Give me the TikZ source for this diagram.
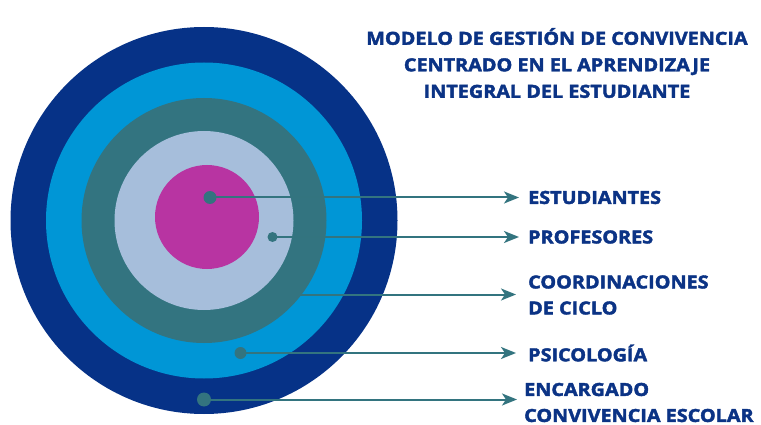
\documentclass[tikz,border=0pt]{standalone}
\usepackage{fontspec}
\IfFontExistsTF{Open Sans ExtraBold}
  {\setmainfont{Open Sans}[BoldFont={Open Sans ExtraBold}]}
  {\setmainfont{Open Sans}[BoldFeatures={FakeBold=2.2,FakeStretch=1.1}]}
\usetikzlibrary{arrows.meta}
\definecolor{navy}{HTML}{063287}
\definecolor{sky}{HTML}{0096D6}
\definecolor{tealring}{HTML}{337480}
\definecolor{steel}{HTML}{A6BEDB}
\definecolor{magent}{HTML}{B834A2}
\definecolor{dotc}{HTML}{33747F}
\definecolor{txt}{HTML}{0B3385}
\begin{document}
\begin{tikzpicture}[x=1pt,y=-1pt,
  ring/.style={circle,inner sep=0pt,minimum size=#1,draw=none},
  dotn/.style={circle,inner sep=0pt,minimum size=#1,fill=dotc},
  lab/.style={anchor=west,inner sep=0pt,text=txt,font=\fontsize{18}{26}\selectfont\bfseries,align=left},
  conn/.style={draw=dotc,line width=2pt,-{Stealth[length=15pt,width=12pt,inset=4pt]},shorten >=9pt}]
\useasboundingbox (0,0) rectangle (761,425);
\fill[white] (0,0) rectangle (761,425);
% rings
\node[ring=387pt,fill=navy] (r1) at (204,220.5) {};
\node[ring=316pt,fill=sky] (r2) at (204,220.5) {};
\node[ring=245pt,fill=tealring] (r3) at (204,220.5) {};
\node[ring=179pt,fill=steel] (r4) at (204,220.5) {};
\node[ring=104pt,fill=magent] (r5) at (207,217) {};
% title
\node[inner sep=0pt,text=txt,font=\fontsize{18}{26.5}\selectfont\bfseries,align=center] (title) at (557,63)
  {MODELO DE GESTIÓN DE CONVIVENCIA\\CENTRADO EN EL APRENDIZAJE\\INTEGRAL DEL ESTUDIANTE};
% labels
\node[lab] (l1) at (528,197.5) {ESTUDIANTES};
\node[lab] (l2) at (528,237) {PROFESORES};
\node[lab] (l3) at (528,295) {COORDINACIONES\\DE CICLO};
\node[lab] (l4) at (528,353) {PSICOLOGÍA};
\node[lab] (l5) at (524,402.5) {ENCARGADO\\CONVIVENCIA ESCOLAR};
% dots
\node[dotn=13pt] (d1) at (210,197.5) {};
\node[dotn=10pt] (d2) at (272.5,237) {};
\coordinate (d3) at (300,294.5);
\node[dotn=12pt] (d4) at (240.5,353) {};
\node[dotn=14pt] (d5) at (204,399.5) {};
% connectors
\draw[conn] (d1.center) -- (d1 -| l1.west);
\draw[conn] (d2.center) -- (d2 -| l2.west);
\draw[conn,shorten >=12pt] (d3) -- (d3 -| l3.west);
\draw[conn,shorten >=12pt] (d4.center) -- (d4 -| l4.west);
\draw[conn,shorten >=7pt] (d5.center) -- (d5 -| l5.west);
\end{tikzpicture}
\end{document}
